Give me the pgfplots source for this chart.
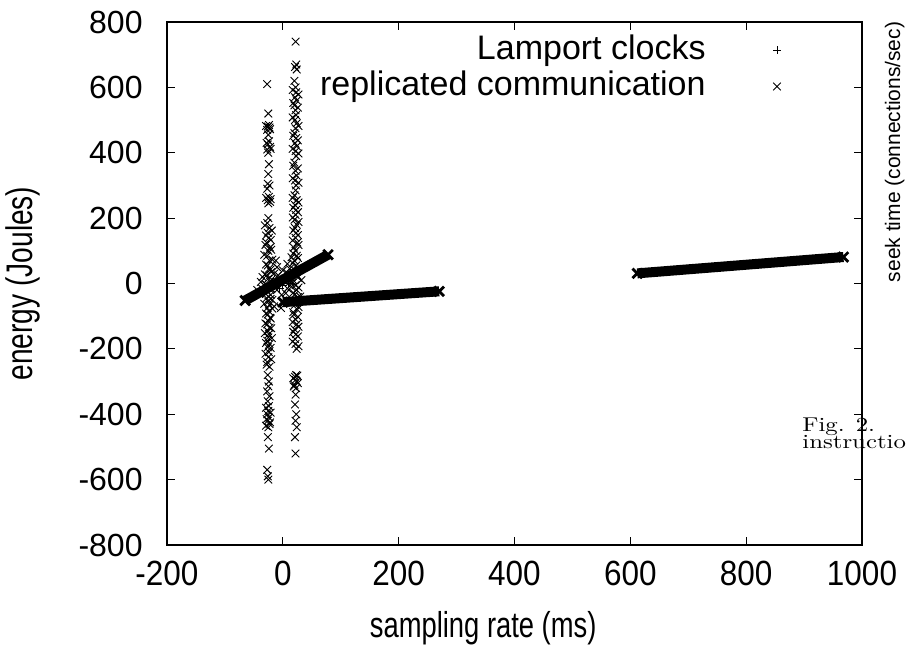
\documentclass[border=0pt]{standalone}
\usepackage{fontspec}
\setmainfont{Liberation Sans}
\newfontfamily\labelfont[FakeStretch=0.76]{Liberation Sans}
\newfontfamily\xtickfont[FakeStretch=0.9]{Liberation Sans}
\newfontfamily\figfont[FakeStretch=1.24]{Latin Modern Roman}
\usepackage{pgfplots}
\usepackage{pgfplotstable}
\pgfplotsset{compat=1.18}

% scattered measurements, two columns near x=-25 and x=22
\pgfplotstableread{
x y
-27 610
-25 520
-24 485
-26 480
-29 482
-22 472
-23 477
-27 470
-25 455
-24 435
-28 430
-26 425
-22 418
-21 412
-27 410
-25 400
-24 365
-25 335
-26 305
-23 300
-27 290
-24 265
-29 262
-21 258
-26 255
-25 245
-22 250
-25 200
-27 185
-31 178
-23 170
-19 162
-26 155
-29 147
-24 140
-21 133
-28 125
-30 118
-22 110
-20 103
-25 100
-32 88
-27 85
-18 73
-23 70
-29 58
-26 55
-24 45
-21 43
-20 35
-28 25
-31 28
-19 13
-25 15
-22 5
-30 -2
-27 -5
-24 -15
-20 -17
-26 -25
-29 -32
-21 -35
-28 -45
-21 -47
-25 -55
-32 -62
-23 -65
-27 -75
-18 -77
-24 -85
-29 -92
-26 -95
-22 -105
-21 -107
-25 -115
-30 -122
-27 -125
-23 -135
-20 -137
-26 -145
-31 -152
-24 -155
-25 -165
-19 -167
-27 -175
-29 -182
-23 -185
-26 -195
-21 -197
-24 -210
-30 -215
-25 -225
-20 -232
-27 -240
-28 -248
-23 -255
-26 -280
-24 -300
-25 -315
-27 -330
-23 -345
-26 -360
-24 -375
-29 -380
-25 -390
-21 -395
-27 -400
-24 -410
-28 -415
-26 -420
-22 -425
-23 -430
-29 -435
-25 -440
-26 -470
-24 -505
-27 -570
-26 -590
-25 -600
22 740
23 670
21 662
24 655
20 620
22 600
17 592
23 585
27 578
21 570
24 560
18 552
20 545
26 538
22 530
23 515
17 508
21 500
24 490
27 482
22 475
20 460
18 452
23 445
26 438
21 430
24 420
17 412
22 405
27 398
23 390
20 370
18 360
26 352
22 345
24 330
17 322
21 315
27 308
23 300
22 285
20 270
17 262
24 255
27 248
21 240
18 232
23 225
26 218
22 210
17 202
20 195
27 188
24 180
21 170
18 162
23 155
26 148
22 140
17 132
25 125
27 118
19 110
22 100
18 92
24 85
26 78
20 70
17 62
23 55
27 48
21 40
18 32
25 25
26 18
18 10
17 2
22 -5
27 -12
24 -20
18 -28
20 -35
26 -42
23 -50
17 -58
21 -65
27 -72
25 -80
18 -88
19 -95
26 -102
22 -110
17 -118
24 -125
27 -132
20 -140
18 -148
23 -155
26 -162
21 -170
17 -178
22 -185
27 -192
24 -200
23 -280
25 -282
21 -285
18 -290
22 -295
24 -300
26 -305
20 -310
19 -315
23 -320
22 -340
21 -370
23 -400
22 -420
24 -440
21 -470
22 -520
-35 20
-38 5
-36 -15
-30 -10
-15 30
-12 -5
-10 -20
-8 25
-5 10
-2 -35
0 40
3 15
5 -30
8 -15
10 20
12 5
15 -10
-18 -50
-15 -70
8 60
-10 50
6 35
-12 70
-3 -75
2 -60
15 80
-40 -30
-44 -20
12 45
30 -40
32 10
}\repldata

\pgfplotstableread{
x y
-10 5
0 -5
5 10
-5 -15
10 0
}\lampdata

\begin{document}
\begin{tikzpicture}
\begin{axis}[
  name=ax, at={(0,0)}, anchor=south west,
  scale only axis, width=347.5pt, height=261.5pt,
  xmin=-200, xmax=1000, ymin=-800, ymax=800,
  xtick={-200,0,200,400,600,800,1000},
  ytick={-800,-600,-400,-200,0,200,400,600,800},
  xticklabels={-200,0,200,400,600,800,1000},
  yticklabels={-800,-600,-400,-200,0,200,400,600,800},
  tick align=inside, major tick length=4pt,
  tick style={black, line width=0.5pt},
  axis line style={black, line width=0.75pt},
  yticklabel style={anchor=east, inner sep=0pt, xshift=-12pt,
    font=\fontsize{16}{19}\selectfont},
  xticklabel style={anchor=north, inner sep=0pt, yshift=-8pt,
    font=\xtickfont\fontsize{17.5}{20}\selectfont},
  xlabel={sampling rate (ms)}, ylabel={energy (Joules)},
  every axis x label/.style={at={(rel axis cs:0.455,-0.1769)}, anchor=base,
    font=\labelfont\fontsize{18}{21}\selectfont},
  every axis y label/.style={at={(rel axis cs:-0.1942,0.5)}, anchor=base, rotate=90,
    font=\labelfont\fontsize{18.5}{21}\selectfont},
  legend style={draw=none, fill=none, inner sep=0pt, outer sep=0pt,
    at={(rel axis cs:0.8835,0.9800)}, anchor=north east,
    row sep=0pt, column sep=0pt, font=\fontsize{17}{20}\selectfont,
    nodes={inner sep=1pt, text height=12.5pt, text depth=3.5pt}},
  legend cell align=right,
  legend plot pos=right,
  legend image code/.code={\path (0pt,0pt) (36pt,0pt);
    \draw[#1] plot coordinates {(34.5pt,0pt)};},
]
\addplot[only marks, mark=+, mark size=2pt, mark options={line width=0.45pt}, black]
  table {\lampdata};
\addlegendentry{Lamport clocks}
\addplot[only marks, mark=x, mark size=2.7pt, mark options={line width=0.45pt}, black]
  table {\repldata};
\addlegendentry{replicated communication}
% dense runs of points, drawn as solid bands
\addplot[forget plot, black, line width=5pt, mark=x, mark size=3.4pt,
  mark options={line width=1.4pt}] coordinates {(-65,-52) (78,88)};
\addplot[forget plot, black, line width=5pt, mark=x, mark size=3.4pt,
  mark options={line width=1.4pt}] coordinates {(0,-57) (270,-24)};
\addplot[forget plot, black, line width=5pt, mark=x, mark size=3.4pt,
  mark options={line width=1.4pt}] coordinates {(612,31) (968,81)};
\end{axis}
\node[rotate=90, anchor=base, inner sep=0pt, font=\fontsize{10.5}{12}\selectfont]
  at ([xshift=19pt, yshift=-65pt]ax.north east) {seek time (connections/sec)};
\node[anchor=base west, inner sep=0pt, font=\figfont\fontsize{10}{12}\selectfont]
  at ([xshift=317.5pt, yshift=56.5pt]ax.south west) {Fig. 2.};
\node[anchor=base west, inner sep=0pt, font=\figfont\fontsize{10}{12}\selectfont]
  at ([xshift=317.5pt, yshift=48pt]ax.south west) {instruction};
\pgfresetboundingbox
\path[use as bounding box] ([xshift=-83.5pt, yshift=-51.5pt]ax.south west)
  rectangle ([xshift=22pt, yshift=11pt]ax.north east);
\end{tikzpicture}
\end{document}
